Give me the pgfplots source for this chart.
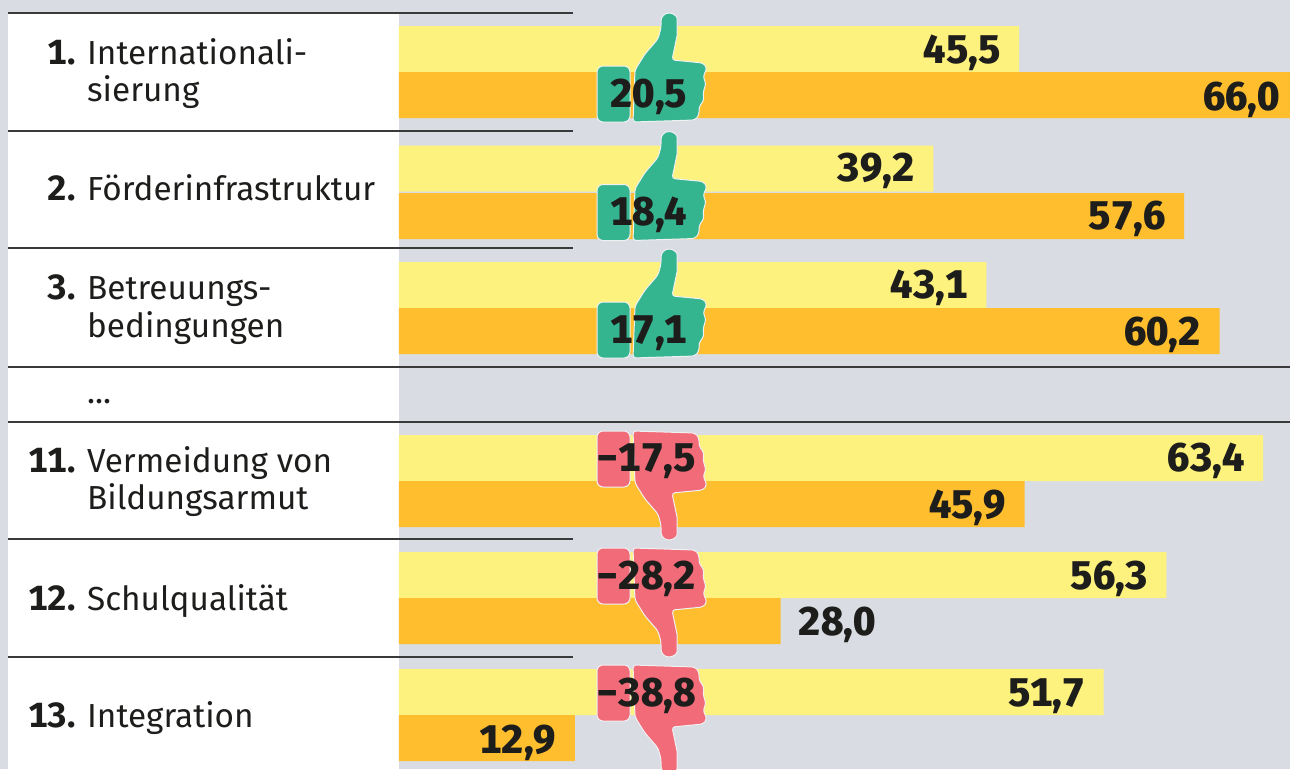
\documentclass[border=0pt]{standalone}
\usepackage{pgfplots}
\pgfplotsset{compat=1.18}
\usepackage{fontspec}
\setmainfont[Numbers=Monospaced]{Fira Sans}
\newfontfamily\vf[Numbers=Monospaced]{Fira Sans ExtraBold}
\definecolor{bg}{HTML}{D9DCE2}
\definecolor{yel}{HTML}{FEF27E}
\definecolor{ora}{HTML}{FFBE2E}
\definecolor{grn}{HTML}{35B58F}
\definecolor{rd}{HTML}{F26B78}
\definecolor{ink}{HTML}{1D1D1B}
\definecolor{rule}{HTML}{3A3A3A}
\newcommand\lab[3]{\node[anchor=base east,font=\fontsize{35}{35}\selectfont\bfseries,text=ink,inner sep=0pt] at (axis cs:-23.70,#1) {#2};
 \node[anchor=base west,font=\fontsize{33.3}{33.3}\selectfont\fontseries{l}\selectfont,text=ink,inner sep=0pt] at (axis cs:-22.89,#1) {#3};}
\newcommand\txt[2]{\node[anchor=base west,font=\fontsize{33.3}{33.3}\selectfont\fontseries{l}\selectfont,text=ink,inner sep=0pt] at (axis cs:-22.89,#1) {#2};}
\newcommand\val[3]{\node[anchor=base east,xshift=-18.5pt,font=\fontsize{40}{40}\selectfont\vf,text=ink,inner sep=0pt] at (axis cs:#1,#2) {#3};}
\newcommand\valo[3]{\node[anchor=base west,xshift=18pt,font=\fontsize{40}{40}\selectfont\vf,text=ink,inner sep=0pt] at (axis cs:#1,#2) {#3};}
\newcommand\tv[3]{\node[anchor=base,font=\fontsize{40}{40}\selectfont\vf,text=ink,inner sep=0pt] at (axis cs:#1,#2) {#3};}
% thumb: #1 row centre, #2 +1/-1, #3 colour; x in px, y relative to row centre (up positive)
\newcommand\thumbshape[3]{%
\begin{scope}[shift={(axis cs:-29.27,#1)},yscale=#2,x=1pt,y=1pt]
\path[fill=#3,draw=white!60!bg,line width=1pt,rounded corners=6pt]
 (597,6)--(630,6)--(630,-50)--(597,-50)--cycle;
\path[fill=#3,draw=white!60!bg,line width=1pt,rounded corners=3pt]
 (633,-50)--(635,2)--(645,18)--(658,33)--(661,44) to[rounded corners=0pt] (661,51) arc (180:0:8) to[rounded corners=0pt] (677,36)--(672,12)
 --(703,9)--(707,4)--(703,-5)--(706,-11)--(703,-21)--(704,-28)--(699,-35)--(699,-43)--(695,-48)--cycle;
\end{scope}}
\begin{document}
\begin{tikzpicture}
\useasboundingbox (0,0) rectangle (1290pt,769pt);
\clip (0,0) rectangle (1290pt,769pt);
\begin{axis}[
  at={(0,0)},anchor=south west,
  scale only axis,width=1290pt,height=769pt,
  xmin=-29.27,xmax=65.37,ymin=0,ymax=769,y dir=reverse,
  hide axis,xbar,bar width=46pt,bar shift=0pt,clip=true]
\fill[bg] (axis cs:-29.27,0) rectangle (axis cs:65.37,769);
\fill[white] (axis cs:-28.69,13) rectangle (axis cs:0,769);
\addplot[fill=yel,draw=none] coordinates {(45.5,49) (39.2,168.5) (43.1,285) (63.4,458) (56.3,575) (51.7,692)};
\addplot[fill=ora,draw=none] coordinates {(66.0,95) (57.6,216) (60.2,331) (45.9,504) (28.0,621) (12.9,738)};
\foreach \yy in {13,131,248,539,657}{\edef\temp{\noexpand\draw[rule,line width=2.2pt] (axis cs:-28.69,\yy) -- (axis cs:12.77,\yy);}\temp}
\draw[rule,line width=2.2pt] (axis cs:-28.69,367) -- (axis cs:65.37,367);
\draw[rule,line width=2.2pt] (axis cs:-28.69,422) -- (axis cs:65.37,422);
\thumbshape{72}{1}{grn}\thumbshape{190.5}{1}{grn}\thumbshape{308}{1}{grn}
\thumbshape{481}{-1}{rd}\thumbshape{598}{-1}{rd}\thumbshape{715}{-1}{rd}
\lab{64}{1.}{Internationali-}\txt{101}{sierung}
\lab{200}{2.}{Förderinfrastruktur}
\lab{299}{3.}{Betreuungs-}\txt{337}{bedingungen}
\txt{403}{...}
\lab{472}{11.}{Vermeidung von}\txt{509}{Bildungsarmut}
\lab{610}{12.}{Schulqualität}
\lab{727}{13.}{Integration}
\val{45.5}{63}{45,5}\val{66.0}{110}{66,0}
\val{39.2}{181}{39,2}\val{57.6}{229}{57,6}
\val{43.1}{298}{43,1}\val{60.2}{345}{60,2}
\val{63.4}{471}{63,4}\val{45.9}{518}{45,9}
\val{56.3}{589}{56,3}\valo{28.0}{635}{28,0}
\val{51.7}{706}{51,7}\val{12.9}{753}{12,9}
\tv{18.34}{107}{20,5}\tv{18.34}{225}{18,4}\tv{18.34}{343}{17,1}
\tv{18.12}{471}{−17,5}\tv{18.12}{589}{−28,2}\tv{18.12}{706}{−38,8}
\end{axis}
\end{tikzpicture}
\end{document}
